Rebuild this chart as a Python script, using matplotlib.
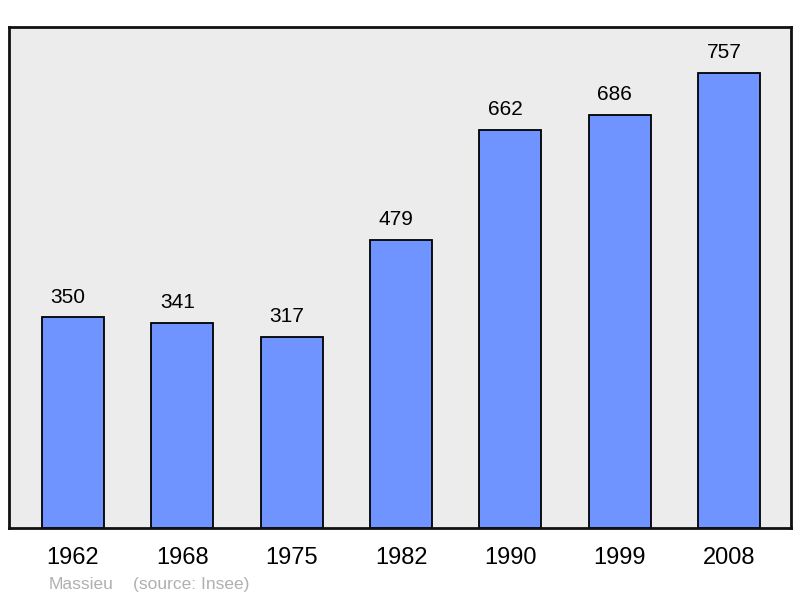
import matplotlib.pyplot as plt

years = ['1962', '1968', '1975', '1982', '1990', '1999', '2008']
population = [350, 341, 317, 479, 662, 686, 757]

plt.rcParams['font.family'] = ['Liberation Sans', 'DejaVu Sans']

fig = plt.figure(figsize=(8, 5.98), dpi=100)
ax = fig.add_axes([0.0113, 0.117, 0.9775, 0.838])
ax.set_facecolor('#ececec')

x = range(len(years))
ax.bar(x, population, width=0.567, color='#7094ff', edgecolor='black', linewidth=1.3, zorder=2)

# value labels sit a little left of the bar centre, as in the original
for i, v in enumerate(population):
    ax.text(i - 0.045, v + 34, str(v), ha='center', va='center', fontsize=15, color='black')

ax.set_xlim(-0.585, 6.567)
ax.set_ylim(0, 833)
ax.set_xticks(list(x))
ax.set_xticklabels(years, fontsize=17)
ax.tick_params(axis='x', length=0, pad=14)
ax.set_yticks([])
for s in ax.spines.values():
    s.set_linewidth(2)
    s.set_color('#111111')

fig.text(0.061, 0.022, 'Massieu', fontsize=12.5, color='#b0b0b0', va='center')
fig.text(0.166, 0.022, '(source: Insee)', fontsize=12.5, color='#b0b0b0', va='center')

fig.savefig('out.png', dpi=100)
